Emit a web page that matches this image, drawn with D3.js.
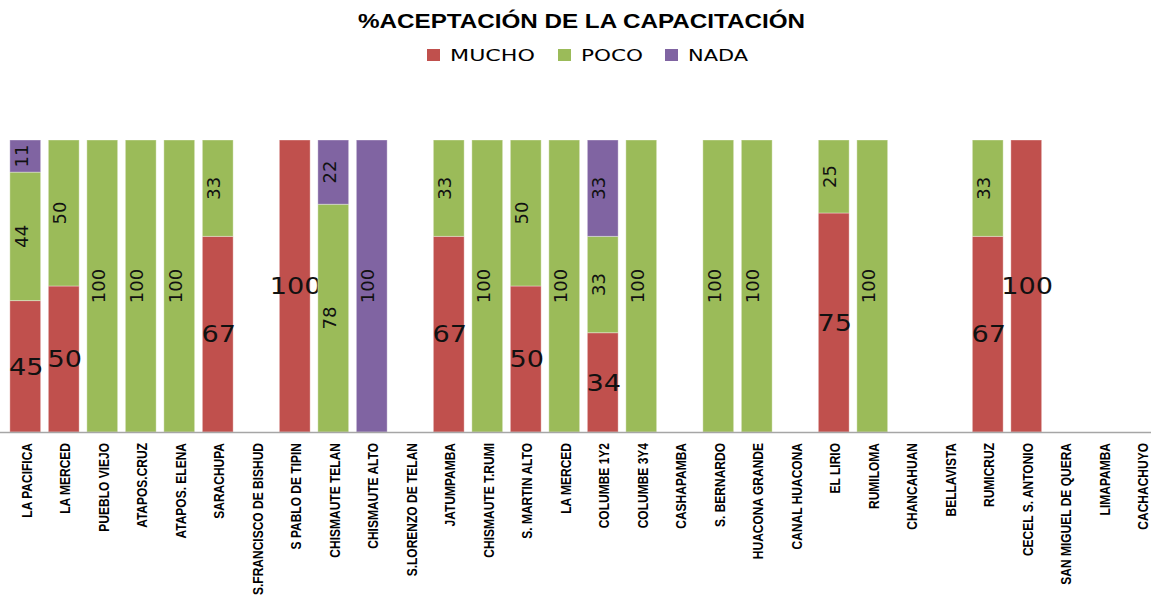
<!DOCTYPE html>
<html>
<head>
<meta charset="utf-8">
<script src="https://cdn.jsdelivr.net/npm/d3@7"></script>
<style>
  body { margin: 0; background: #fff; }
  svg { display: block; }
</style>
</head>
<body>
<svg id="chart" width="1151" height="608"></svg>
<script>
const categories = [
    "LA PACIFICA", "LA MERCED", "PUEBLO VIEJO", "ATAPOS.CRUZ", "ATAPOS. ELENA",
    "SARACHUPA", "S.FRANCISCO DE BISHUD", "S PABLO DE TIPIN", "CHISMAUTE TELAN", "CHISMAUTE ALTO",
    "S.LORENZO DE TELAN", "JATUMPAMBA", "CHISMAUTE T.RUMI", "S. MARTIN ALTO", "LA MERCED",
    "COLUMBE 1Y2", "COLUMBE 3Y4", "CASHAPAMBA", "S. BERNARDO", "HUACONA GRANDE",
    "CANAL HUACONA", "EL LIRIO", "RUMILOMA", "CHANCAHUAN", "BELLAVISTA",
    "RUMICRUZ", "CECEL S. ANTONIO", "SAN MIGUEL DE QUERA", "LIMAPAMBA", "CACHACHUYO"
];
const mucho = [45, 50, 0, 0, 0, 67, 0, 100, 0, 0, 0, 67, 0, 50, 0, 34, 0, 0, 0, 0, 0, 75, 0, 0, 0, 67, 100, 0, 0, 0];
const poco  = [44, 50, 100, 100, 100, 33, 0, 0, 78, 0, 0, 33, 100, 50, 100, 33, 100, 0, 100, 100, 0, 25, 100, 0, 0, 33, 0, 0, 0, 0];
const nada  = [11, 0, 0, 0, 0, 0, 0, 0, 22, 100, 0, 0, 0, 0, 0, 33, 0, 0, 0, 0, 0, 0, 0, 0, 0, 0, 0, 0, 0, 0];
const seriesNames = ["MUCHO", "POCO", "NADA"];
const seriesColors = ["#c0504d", "#9bbb59", "#8064a2"];

const svg = d3.select("#chart");
const margin = {left: 6, right: -10, top: 140, bottom: 176};
const W = 1151, H = 608;

//rows for the stack, keyed by index since LA MERCED appears twice
const rows = categories.map((c, i) => ({idx: i, name: c, MUCHO: mucho[i], POCO: poco[i], NADA: nada[i]}));
const stack = d3.stack().keys(seriesNames)(rows);

const x = d3.scaleBand()
    .domain(rows.map(d => d.idx))
    .range([margin.left, W - margin.right])
    .paddingInner(0.2)
    .paddingOuter(0.1);
const y = d3.scaleLinear().domain([0, 100]).range([H - margin.bottom, margin.top]);

//title + legend
svg.append("text")
    .attr("x", 358).attr("y", 28)
    .attr("textLength", 447)
    .attr("lengthAdjust", "spacingAndGlyphs")
    .style("font-family", "'Liberation Sans', Arial, sans-serif")
    .style("font-weight", "bold")
    .style("font-size", "21px")
    .text("%ACEPTACIÓN DE LA CAPACITACIÓN");

const legendX = [427, 558, 665];
const legendW = [85, 62, 60];
const legend = svg.append("g").selectAll("g")
    .data(seriesNames).enter()
    .append("g")
    .attr("transform", (d, i) => `translate(${legendX[i]},49)`);
legend.append("rect")
    .attr("width", 13).attr("height", 12)
    .attr("fill", (d, i) => seriesColors[i]);
legend.append("text")
    .attr("x", 23).attr("y", 12)
    .attr("textLength", (d, i) => legendW[i])
    .attr("lengthAdjust", "spacingAndGlyphs")
    .style("font-family", "'DejaVu Sans', Verdana, sans-serif")
    .style("font-size", "15px")
    .text(d => d);

//bars
const layers = svg.append("g").selectAll("g")
    .data(stack).enter()
    .append("g")
    .attr("fill", (d, i) => seriesColors[i]);
layers.selectAll("rect")
    .data(d => d.filter(s => s[1] - s[0] > 0))
    .enter().append("rect")
    .attr("x", d => x(d.data.idx))
    .attr("width", x.bandwidth())
    .attr("y", d => y(d[1]))
    .attr("height", d => y(d[0]) - y(d[1]))
    .attr("stroke", "#ffffff")
    .attr("stroke-opacity", 0.35)
    .attr("stroke-width", 1);

//value labels: MUCHO horizontal (wide), the others rotated
layers.each(function(layer, li) {
    d3.select(this).selectAll("text")
        .data(layer.filter(s => s[1] - s[0] > 0))
        .enter().append("text")
        .attr("fill", "#111")
        .attr("text-anchor", "middle")
        .attr("dy", "0.36em")
        .style("font-family", "'DejaVu Sans', Verdana, sans-serif")
        .style("font-size", li === 0 ? "23px" : "18px")
        .attr("transform", d => {
            const cx = x(d.data.idx) + x.bandwidth() / 2;
            const cy = y((d[0] + d[1]) / 2);
            return li === 0 ? `translate(${cx + 1},${cy}) scale(1.18,1)` : `translate(${cx - 4},${cy}) rotate(-90)`;
        })
        .text(d => d[1] - d[0]);
});

//axis
svg.append("line")
    .attr("x1", 0).attr("x2", W)
    .attr("y1", y(0) + 0.5).attr("y2", y(0) + 0.5)
    .attr("stroke", "#a6a6a6").attr("stroke-width", 1.5);

svg.append("g").selectAll("text")
    .data(rows).enter()
    .append("text")
    .attr("transform", d => `translate(${x(d.idx) + x.bandwidth() / 2 + 1},${y(0) + 11}) rotate(-90) scale(0.8,1)`)
    .attr("text-anchor", "end")
    .attr("dy", "0.36em")
    .style("font-family", "'Liberation Sans', Arial, sans-serif")
    .style("font-weight", "bold")
    .style("font-size", "15px")
    .text(d => d.name);
</script>
</body>
</html>
